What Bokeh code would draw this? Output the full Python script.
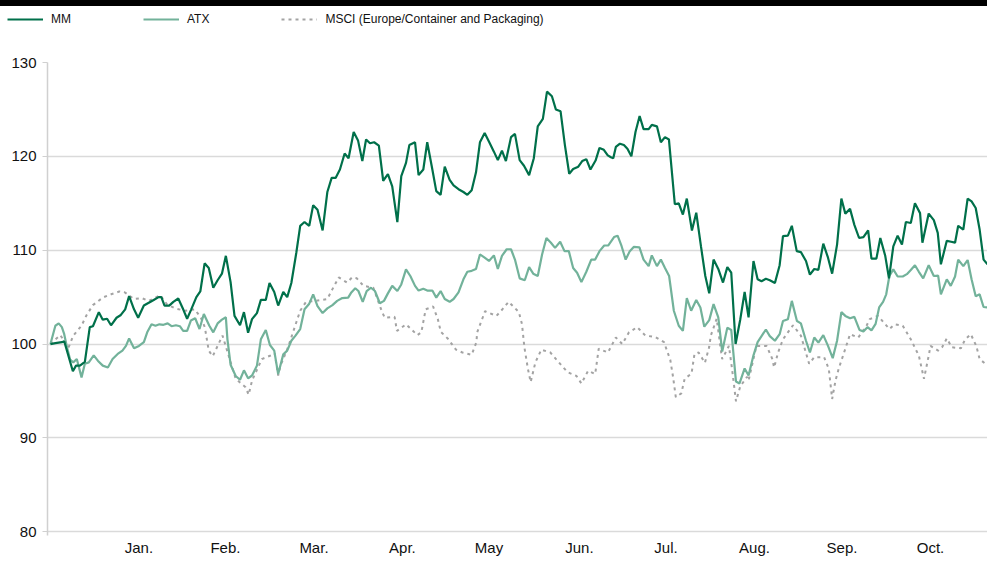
from bokeh.plotting import figure
from bokeh.models import FixedTicker, Legend, LegendItem, Div
from bokeh.layouts import column
from bokeh.embed import file_html
from bokeh.resources import INLINE

# ---------------- data (t = trading-day index, values indexed to 100) ----------------
month_labels = ["Jan.", "Feb.", "Mar.", "Apr.", "May", "Jun.", "Jul.", "Aug.", "Sep.", "Oct."]
month_pos = [22.5, 44.5, 67.0, 89.5, 111.5, 134.5, 156.5, 179.0, 201.25, 223.75]
y_ticks = [80, 90, 100, 110, 120, 130]
series_names = ["MM", "ATX", "MSCI (Europe/Container and Packaging)"]

mm_t = [0, 1.25, 2.9, 3.5, 5.7, 6.5, 7.5, 8.75, 10, 10.8, 12.3, 13.3, 14.4, 15.4, 16.8, 17.9, 19, 20,
        21.25, 22.3, 23.75, 25, 26.25, 27.5, 28.2, 29, 30.2, 31.25, 32.5, 33.75, 34.75, 35.8, 37.1, 38.1,
        39.2, 40.25, 41.4, 42.5, 43.6, 44.6, 45.8, 46.8, 48.2, 49.2, 50.25, 51.25, 52.5, 53.5, 54.75, 55.7,
        56.9, 57.9, 59.2, 60.2, 61.25, 62.5, 63.5, 64.6, 65.8, 66.8, 67.9, 69.2, 70.4, 71.5, 72.5, 73.6,
        74.8, 75.8, 77.1, 78.2, 79.3, 80.25, 81.25, 82.3, 83.5, 84.6, 85.8, 86.9, 88.2, 89.2, 90.4, 91.25,
        92.7, 93.6, 94.8, 95.8, 97.1, 98.1, 99.2, 100.25, 101.5, 102.5, 103.75, 105, 106, 107.1, 108.2,
        109.2, 110.4, 111.7, 112.75, 113.75, 114.8, 115.8, 117.1, 118.1, 119.3, 120.4, 121.7, 122.9, 123.9,
        125.2, 126.25, 127.5, 128.5, 129.7, 130.8, 131.9, 132.9, 134.2, 135.2, 136.25, 137.3, 138.6, 139.6,
        140.7, 141.7, 142.5, 143.1, 143.75, 144.8, 145.8, 146.7, 147.7, 148.75, 149.8, 150.8, 152.1, 152.9,
        154.2, 155.2, 156.25, 157.25, 158.75, 159.75, 160.8, 161.8, 163.1, 164.2, 165.4, 166.5, 167.5,
        168.6, 169.8, 171, 172.1, 173.1, 174.2, 175.4, 176.5, 177.5, 178.75, 179.8, 180.8, 181.9, 182.9,
        184.2, 185.4, 186.25, 187.5, 188.5, 189.75, 190.8, 192.1, 193.1, 194.2, 195.25, 196.5, 197.7,
        198.75, 200, 201.1, 202.1, 203.3, 204.4, 205.6, 206.7, 207.9, 208.75, 210, 211, 212.25, 213.2,
        214.3, 215.4, 216.5, 217.5, 218.75, 219.8, 221.1, 221.7, 223.3, 224.6, 225.6, 226.4, 227.9, 229,
        230, 230.8, 232.1, 233.2, 234.2, 235.25, 236.25, 237.25, 238.25]
mm_v = [100.0, 100.1, 100.2, 100.3, 97.1, 97.7, 97.7, 98.1, 101.8, 101.9, 103.4, 102.6, 102.7, 102.0,
        102.8, 103.1, 103.7, 105.1, 103.7, 102.8, 104.1, 104.4, 104.7, 105.0, 105.0, 104.1, 104.1, 104.5,
        104.85, 103.7, 102.7, 103.7, 105.0, 105.6, 108.6, 108.1, 106.0, 106.8, 107.5, 109.4, 106.6, 103.0,
        102.0, 103.4, 101.2, 102.65, 103.3, 104.7, 104.7, 106.5, 105.55, 104.1, 105.55, 105.0, 106.5,
        109.7, 112.6, 113.0, 112.6, 114.8, 114.3, 112.1, 116.2, 117.7, 117.7, 118.6, 120.3, 119.8, 122.6,
        121.7, 119.5, 121.8, 121.4, 121.5, 121.15, 117.4, 118.1, 116.8, 113.0, 117.9, 119.3, 121.2, 121.5,
        118.0, 118.6, 121.5, 118.6, 116.3, 115.9, 118.9, 117.5, 116.9, 116.5, 116.2, 115.9, 116.4, 118.3,
        121.5, 122.5, 121.4, 120.5, 119.6, 120.6, 119.5, 122.05, 122.4, 119.6, 119.0, 118.0, 119.8, 123.2,
        124.0, 126.9, 126.4, 125.0, 124.8, 121.2, 118.15, 118.65, 118.9, 119.5, 119.7, 118.6, 119.55,
        120.9, 120.7, 120.1, 119.9, 119.8, 121.0, 121.35, 121.2, 120.8, 120.0, 122.6, 124.3, 122.9, 122.9,
        123.35, 123.2, 121.5, 122.05, 121.8, 114.9, 115.0, 113.8, 115.5, 112.1, 114.0, 110.4, 107.25,
        105.4, 109.0, 108.0, 106.55, 108.2, 107.6, 100.0, 102.65, 105.55, 102.85, 108.85, 106.9, 106.7,
        106.95, 106.8, 106.5, 108.4, 111.5, 111.55, 112.6, 109.9, 109.8, 108.85, 107.4, 108.0, 107.9,
        110.7, 109.2, 107.5, 110.6, 115.5, 113.9, 114.4, 112.7, 111.3, 111.4, 112.1, 109.1, 109.1, 111.3,
        109.4, 107.0, 110.4, 111.55, 110.6, 113.0, 112.9, 115.0, 113.95, 110.8, 113.9, 113.2, 111.85,
        108.5, 111.0, 110.9, 110.8, 112.6, 112.2, 115.5, 115.2, 114.5, 112.2, 109.0, 108.5]

atx_t = [0, 1.25, 2.1, 2.9, 3.5, 4.2, 5, 5.8, 6.7, 7.9, 8.75, 9.75, 11, 12.1, 13.3, 14.6, 15.8, 17.1,
         18.3, 19.2, 20, 21.25, 22.5, 23.75, 24.6, 25.7, 26.7, 27.7, 28.75, 29.8, 30.8, 31.9, 32.9, 33.75,
         34.75, 35.7, 36.8, 37.9, 39, 40.4, 41.4, 42.5, 43.6, 44.6, 45, 45.8, 47.1, 48.2, 49.2, 50.25,
         51.25, 52.5, 53.5, 54.75, 55.8, 56.9, 57.9, 59.2, 60.2, 61.25, 62.3, 63.5, 64.6, 65.8, 66.8, 67.9,
         69.2, 70.4, 71.7, 72.9, 74.2, 75.7, 76.5, 77.5, 78.3, 79.4, 80.4, 81.5, 82.5, 83.75, 84.8, 85.8,
         86.9, 88.2, 89.2, 90.4, 91.5, 92.7, 93.6, 94.8, 95.8, 97.1, 98.1, 99.2, 100.25, 101.5, 102.5,
         103.75, 105, 106, 107.1, 108.2, 109.2, 110.4, 111.5, 112.75, 113.75, 114.8, 116, 117.1, 118.1,
         119.3, 120.6, 121.7, 122.75, 123.9, 125, 126.1, 127.25, 128.3, 129.6, 130.7, 131.8, 132.9, 133.9,
         135, 136.25, 137.5, 138.5, 139.6, 140.8, 141.8, 143.3, 144.2, 145.2, 146.25, 147.3, 148.3, 149.75,
         150.8, 152.1, 152.9, 154.2, 155.2, 156.25, 157.3, 158.5, 159.75, 160.8, 161.8, 162.9, 164.2,
         165.25, 166.25, 167.5, 168.6, 169.8, 170.8, 172.1, 173.1, 174.3, 175.2, 176.5, 177.5, 178.75,
         179.8, 180.8, 181.9, 182.9, 184.2, 185.4, 186.25, 187.5, 188.5, 189.8, 190.8, 192.1, 193.1, 194.2,
         195.25, 196.5, 197.7, 198.9, 200, 201.1, 202.1, 203.3, 204.4, 205.7, 206.7, 207.75, 208.75, 209.8,
         210.7, 211.7, 212.5, 213.3, 214.3, 215.4, 216.7, 217.75, 218.75, 219.8, 220.8, 221.9, 223.3,
         224.6, 225.7, 226.4, 227.9, 228.9, 230, 230.8, 232.1, 233.2, 234.2, 235.25, 236.25, 237.25, 238.25]
atx_v = [100.0, 101.95, 102.2, 101.8, 101.05, 99.65, 98.35, 98.05, 98.4, 96.45, 97.9, 98.05, 98.8, 98.2,
         97.7, 97.5, 98.4, 98.95, 99.3, 99.8, 100.6, 99.55, 99.8, 100.2, 101.25, 102.1, 101.95, 102.1,
         102.05, 102.2, 101.9, 102.0, 101.9, 101.4, 101.4, 102.5, 102.75, 101.6, 103.2, 101.95, 101.25,
         102.2, 102.6, 102.85, 100.5, 97.8, 96.6, 96.2, 97.2, 96.35, 96.65, 97.7, 100.5, 101.5, 99.9, 99.3,
         96.8, 98.9, 99.3, 100.35, 100.9, 101.6, 103.7, 104.3, 105.3, 104.05, 103.3, 103.8, 104.15, 104.6,
         104.9, 104.95, 105.5, 105.95, 105.65, 104.5, 105.65, 106.0, 105.65, 104.35, 104.6, 105.4, 106.2,
         105.65, 106.35, 107.95, 107.25, 106.2, 105.7, 105.9, 105.7, 105.7, 104.95, 105.65, 104.8, 104.5,
         104.8, 105.5, 106.9, 107.7, 107.8, 108.0, 109.55, 109.2, 108.85, 109.45, 108.0, 109.4, 110.1,
         110.1, 109.0, 107.0, 106.8, 108.2, 107.5, 107.25, 109.55, 111.3, 110.8, 110.25, 110.9, 109.9,
         109.9, 108.1, 107.6, 106.6, 107.7, 109.0, 109.0, 109.9, 110.5, 110.5, 111.4, 111.55, 110.45, 109.0,
         109.9, 110.35, 110.3, 109.0, 108.3, 109.45, 108.3, 109.0, 108.1, 107.25, 103.55, 101.95, 101.4,
         104.9, 103.55, 104.7, 103.9, 101.85, 102.55, 104.25, 102.85, 99.2, 101.75, 101.5, 96.0, 95.8, 97.4,
         96.65, 98.8, 100.2, 100.85, 101.55, 100.85, 100.35, 101.05, 102.45, 102.65, 104.6, 102.45, 102.2,
         100.35, 99.1, 100.7, 100.15, 100.95, 99.8, 98.5, 100.35, 103.4, 103.0, 102.75, 102.9, 101.5,
         101.35, 101.8, 101.45, 102.15, 103.9, 104.5, 105.3, 107.25, 107.95, 107.2, 107.2, 107.45, 107.9,
         108.4, 107.7, 107.0, 108.4, 107.25, 107.3, 105.3, 106.9, 106.2, 107.2, 109.0, 108.3, 108.95, 106.9,
         105.1, 105.3, 103.95, 103.9]

msci_t = [0, 2.5, 4.6, 5.8, 7.9, 9.2, 10.8, 13.3, 15.4, 17.5, 18.75, 21.25, 23.2, 25, 27.9, 29.6, 31.7,
          34.2, 36.7, 38.25, 39.25, 40.25, 41.25, 42.5, 43.75, 45.5, 47.1, 49.6, 50.4, 51.25, 53.75, 55.8,
          57, 57.9, 58.5, 60.4, 62.5, 63.5, 65, 67.5, 70.4, 71.7, 73.3, 75.4, 76.7, 77.9, 79.6, 82.1, 84.2,
          85, 87.5, 88.1, 90.4, 93.3, 94.3, 95.4, 97.3, 98.5, 99.25, 101, 103.1, 104.75, 107.1, 108.3,
          108.5, 110.5, 113.4, 114.8, 116.5, 119.1, 119.9, 120.5, 121.4, 122.1, 123.3, 124.8, 127.1,
          129.25, 131.5, 133.75, 135, 136.7, 138.5, 139.4, 141.75, 143.75, 145.4, 147.1, 149.2, 151.25,
          153.75, 156, 157.6, 158.3, 159, 160.4, 161.25, 163, 163.75, 164.8, 166.4, 167.5, 167.9, 169.4,
          170.4, 170.8, 172.5, 173.3, 174.3, 175.4, 177.1, 177.5, 179.5, 182.1, 183.5, 184, 185, 186.25,
          187.5, 188.8, 190.8, 192.9, 194.2, 196.7, 197.9, 198.75, 199.6, 200.4, 202.1, 203.3, 205.4,
          207.5, 208.3, 210.4, 213.3, 214.6, 216.7, 218.75, 220.8, 222.1, 223.3, 223.75, 225.7, 226.7,
          227.9, 229.2, 231.5, 232.5, 234, 235.4, 236.25, 238.25]
msci_v = [100.0, 100.95, 99.65, 100.9, 101.95, 103.1, 104.15, 104.95, 105.3, 105.6, 105.55, 104.8, 104.9,
          104.6, 105.2, 104.25, 103.8, 103.55, 103.7, 102.8, 101.8, 99.3, 98.7, 99.8, 100.9, 98.5, 96.3,
          95.4, 94.6, 96.1, 98.4, 98.75, 99.0, 96.65, 97.7, 99.65, 102.3, 103.55, 104.5, 104.6, 104.8,
          105.85, 107.1, 106.55, 107.1, 107.0, 106.2, 106.0, 103.55, 102.8, 102.9, 101.4, 102.1, 100.95,
          101.25, 103.7, 104.0, 102.65, 101.3, 100.6, 99.4, 99.1, 98.85, 100.2, 101.25, 103.5, 103.0,
          103.65, 104.5, 103.4, 102.1, 99.65, 97.35, 95.95, 98.05, 99.4, 99.1, 98.05, 97.0, 96.6, 95.8,
          97.15, 96.8, 99.5, 99.1, 100.7, 100.0, 101.25, 101.8, 100.9, 100.75, 100.2, 98.3, 96.5, 94.35,
          94.75, 96.3, 96.85, 98.95, 99.1, 98.0, 99.7, 100.9, 102.7, 99.5, 98.4, 99.8, 97.35, 93.9, 95.5,
          96.5, 96.1, 99.8, 99.8, 98.45, 97.5, 99.1, 100.5, 101.25, 102.0, 100.9, 97.9, 98.6, 98.6, 97.35,
          94.15, 96.1, 97.35, 99.5, 101.05, 100.7, 101.95, 102.65, 103.0, 101.6, 102.1, 101.95, 100.5,
          98.75, 96.3, 98.75, 99.8, 99.3, 99.65, 100.6, 99.65, 99.55, 100.45, 101.05, 99.8, 98.4, 97.7]

# ---------------- styles ----------------
MM_COLOR = "#00704a"
ATX_COLOR = "#72b29a"
MSCI_COLOR = "#a3a3a3"
GRID_COLOR = "#dadada"
FONT = "Liberation Sans"
NARROW = "'Liberation Sans Narrow', 'Liberation Sans', sans-serif"
STYLES = [dict(line_color=MM_COLOR, line_width=2.2),
          dict(line_color=ATX_COLOR, line_width=2.2),
          dict(line_color=MSCI_COLOR, line_width=2, line_dash="3 4")]
SERIES = [(mm_t, mm_v), (atx_t, atx_v), (msci_t, msci_v)]

# ---------------- main chart ----------------
p = figure(frame_width=940, frame_height=473, output_backend="svg", toolbar_location=None,
           x_range=(-0.75, 238.25), y_range=(79.6, 130),
           min_border_left=47, min_border_right=0, min_border_top=12, min_border_bottom=20)
p.frame_align = False
p.outline_line_color = None
p.background_fill_color = "white"
p.border_fill_color = "white"

for (xs, ys), st in reversed(list(zip(SERIES, STYLES))):
    p.line(xs, ys, **st)

p.xaxis.ticker = FixedTicker(ticks=month_pos)
p.xaxis.major_label_overrides = {pos: lab for pos, lab in zip(month_pos, month_labels)}
p.xaxis.axis_line_color = None
p.xaxis.major_tick_line_color = None
p.xaxis.minor_tick_line_color = None
p.xaxis.major_tick_out = 0
p.xaxis.major_tick_in = 0
p.xaxis.minor_tick_out = 0
p.xaxis.major_label_standoff = 3
p.xaxis.major_label_text_font = FONT
p.xaxis.major_label_text_font_size = "15px"
p.xaxis.major_label_text_color = "#111111"

p.yaxis.ticker = FixedTicker(ticks=y_ticks)
p.yaxis.axis_line_color = "#d0d0d0"
p.yaxis.axis_line_width = 1.5
p.yaxis.major_tick_line_color = "#d0d0d0"
p.yaxis.major_tick_out = 5
p.yaxis.major_tick_in = 0
p.yaxis.minor_tick_line_color = None
p.yaxis.major_label_standoff = 6
p.yaxis.major_label_text_font = FONT
p.yaxis.major_label_text_font_size = "15px"
p.yaxis.major_label_text_color = "#111111"

p.xgrid.grid_line_color = None
p.ygrid.ticker = FixedTicker(ticks=y_ticks)
p.ygrid.grid_line_color = GRID_COLOR
p.ygrid.grid_line_width = 1.5

# ---------------- legend strip: own small figure; its series renderers lie outside its view ----------------
lf = figure(width=987, height=44, output_backend="svg", toolbar_location=None,
            x_range=(1000, 1001), y_range=(0, 1),
            min_border_left=0, min_border_right=0, min_border_top=0, min_border_bottom=0,
            x_axis_location=None, y_axis_location=None)
lf.frame_align = False
lf.grid.visible = False
lf.outline_line_color = None
lf.border_fill_color = "white"
lf.background_fill_color = "white"
items = []
for name, (xs, ys), st in zip(series_names, SERIES, STYLES):
    r = lf.line(xs, ys, **st)
    items.append(LegendItem(label=name, renderers=[r]))
legend = Legend(items=items, orientation="horizontal", location=(7, 24),
                glyph_width=36, glyph_height=14, label_standoff=8, spacing=72,
                padding=0, margin=0, border_line_color=None, background_fill_alpha=0,
                label_text_font=NARROW, label_text_font_size="12px", label_text_color="#111111",
                label_height=14, label_width=10)
lf.add_layout(legend)

bar = Div(text="", width=987, height=6, margin=0, styles={"background-color": "#000000"})
layout = column(bar, lf, p, spacing=0)

open("out.html", "w").write(file_html(layout, INLINE))
